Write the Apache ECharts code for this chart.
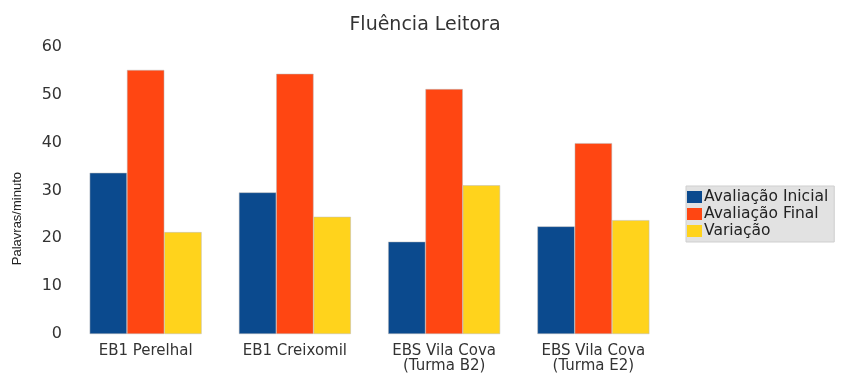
<!DOCTYPE html>
<html>
<head>
<meta charset="utf-8">
<script src="https://cdn.jsdelivr.net/npm/echarts@6/dist/echarts.min.js"></script>
<style>
  html, body { margin: 0; padding: 0; background: #fff; }
  #chart { width: 850px; height: 375px; }
</style>
</head>
<body>
<div id="chart"></div>
<script>
// escolas e valores (palavras/minuto)
var escolas = ['EB1 Perelhal', 'EB1 Creixomil', 'EBS Vila Cova\n(Turma B2)', 'EBS Vila Cova\n(Turma E2)'];
var avaliacaoInicial = [33.7, 29.6, 19.3, 22.5];
var avaliacaoFinal = [55.2, 54.4, 51.2, 39.9];
var variacao = [21.3, 24.5, 31.1, 23.8];
var nomesSeries = ['Avaliação Inicial', 'Avaliação Final', 'Variação'];
var cores = ['#0b4a8e', '#ff4612', '#ffd31c'];

var myChart = echarts.init(document.getElementById('chart'));

var option = {
    animation: false,
    title: {
        text: 'Fluência Leitora',
        left: 'center',
        top: 11,
        textStyle: {
            fontFamily: 'DejaVu Sans',
            fontSize: 19,
            fontWeight: 'normal',
            color: '#333'
        }
    },
    legend: {
        orient: 'vertical',
        left: 686,
        top: 186,
        data: nomesSeries,
        icon: 'rect',
        itemWidth: 15,
        itemHeight: 12,
        itemGap: 1,
        padding: [3, 6, 3, 1],
        backgroundColor: '#e2e2e2',
        borderColor: '#cfcfcf',
        borderWidth: 1,
        itemStyle: { borderWidth: 0 },
        textStyle: {
            fontFamily: 'DejaVu Sans',
            fontSize: 15.5,
            lineHeight: 15,
            color: '#222',
            padding: [0, 0, 0, -3]
        }
    },
    grid: {
        left: 71,
        right: 182,
        top: 47,
        bottom: 41
    },
    xAxis: {
        type: 'category',
        data: escolas,
        axisLine: { show: false },
        axisTick: { show: false },
        axisLabel: {
            fontFamily: 'DejaVu Sans',
            fontSize: 15,
            color: '#333',
            lineHeight: 14.5,
            margin: 10
        }
    },
    yAxis: {
        type: 'value',
        min: 0,
        max: 60,
        interval: 10,
        splitLine: { show: false },
        axisLine: { show: false },
        axisTick: { show: false },
        axisLabel: {
            fontFamily: 'DejaVu Sans',
            fontSize: 16,
            color: '#333',
            margin: 9
        }
    },
    graphic: [{
        type: 'text',
        left: 11,
        top: 172,
        rotation: Math.PI / 2,
        style: {
            text: 'Palavras/minuto',
            fontFamily: 'Liberation Sans Narrow, Liberation Sans',
            fontSize: 13,
            fill: '#222'
        }
    }],
    series: [
        {
            name: nomesSeries[0],
            type: 'bar',
            data: avaliacaoInicial,
            barGap: '0%',
            barCategoryGap: '25%',
            itemStyle: { color: cores[0], borderColor: '#bbb', borderWidth: 0.5 }
        },
        {
            name: nomesSeries[1],
            type: 'bar',
            data: avaliacaoFinal,
            itemStyle: { color: cores[1], borderColor: '#bbb', borderWidth: 0.5 }
        },
        {
            name: nomesSeries[2],
            type: 'bar',
            data: variacao,
            itemStyle: { color: cores[2], borderColor: '#bbb', borderWidth: 0.5 }
        }
    ]
};

myChart.setOption(option);
</script>
</body>
</html>
